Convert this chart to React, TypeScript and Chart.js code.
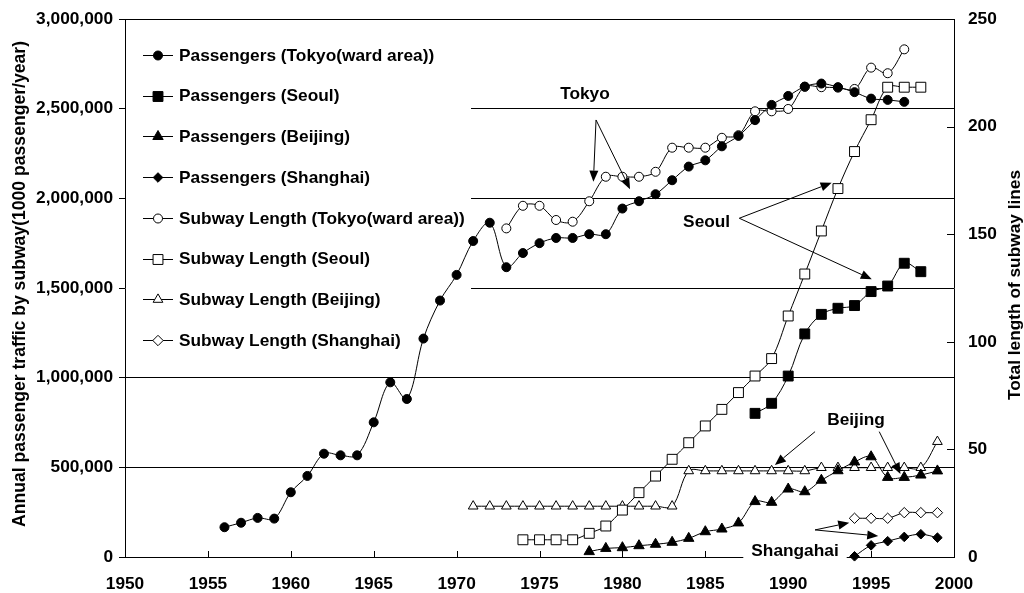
import React, { useEffect, useRef } from 'react';
import { Chart, registerables } from 'chart.js';

Chart.register(...registerables);

const FONT = '"Liberation Sans", Arial, Helvetica, sans-serif';
const FS = 17.3;

// ---------- data ----------
const tokyoPassengerYears = [1956, 1957, 1958, 1959, 1960, 1961, 1962, 1963, 1964, 1965, 1966, 1967, 1968, 1969, 1970, 1971, 1972, 1973, 1974, 1975, 1976, 1977, 1978, 1979, 1980, 1981, 1982, 1983, 1984, 1985, 1986, 1987, 1988, 1989, 1990, 1991, 1992, 1993, 1994, 1995, 1996, 1997];
const tokyoPassengers = [166000, 191000, 218000, 214000, 361000, 452000, 576000, 567000, 567000, 751000, 974000, 881000, 1218000, 1430000, 1573000, 1762000, 1864000, 1616000, 1695000, 1750000, 1779000, 1779000, 1800000, 1800000, 1943000, 1984000, 2023000, 2101000, 2177000, 2212000, 2290000, 2348000, 2436000, 2521000, 2571000, 2623000, 2640000, 2620000, 2592000, 2556000, 2549000, 2538000];

const seoulPassengerYears = [1988, 1989, 1990, 1991, 1992, 1993, 1994, 1995, 1996, 1997, 1998];
const seoulPassengers = [801000, 857000, 1009000, 1244000, 1353000, 1387000, 1402000, 1480000, 1511000, 1638000, 1591000];

const beijingPassengerYears = [1978, 1979, 1980, 1981, 1982, 1983, 1984, 1985, 1986, 1987, 1988, 1989, 1990, 1991, 1992, 1993, 1994, 1995, 1996, 1997, 1998, 1999];
const beijingPassengers = [30000, 48000, 52000, 63000, 71000, 82000, 104000, 141000, 156000, 190000, 309000, 305000, 379000, 364000, 428000, 481000, 530000, 559000, 444000, 444000, 457000, 480000];

const shanghaiYears = [1994, 1995, 1996, 1997, 1998, 1999];
const shanghaiPassengers = [4000, 65000, 88000, 112000, 127000, 108000];

const tokyoLengthYears = [1973, 1974, 1975, 1976, 1977, 1978, 1979, 1980, 1981, 1982, 1983, 1984, 1985, 1986, 1987, 1988, 1989, 1990, 1991, 1992, 1993, 1994, 1995, 1996, 1997];
const tokyoLength = [152.7, 163.2, 163.2, 156.6, 155.8, 165.3, 176.7, 176.7, 176.7, 179, 190.2, 190.2, 190.2, 194.8, 196, 207.1, 207.1, 208.2, 218.5, 218.3, 218.1, 217.5, 227.4, 224.8, 235.9];

const seoulLengthYears = [1974, 1975, 1976, 1977, 1978, 1979, 1980, 1981, 1982, 1983, 1984, 1985, 1986, 1987, 1988, 1989, 1990, 1991, 1992, 1993, 1994, 1995, 1996, 1997, 1998];
const seoulLength = [8, 8, 8, 8, 11, 14.4, 21.8, 29.9, 37.6, 45.4, 53.1, 60.9, 68.6, 76.4, 84.1, 92.2, 112, 131.5, 151.5, 171.2, 188.4, 203.2, 218.3, 218.3, 218.3];

const beijingLengthYears = [1971, 1972, 1973, 1974, 1975, 1976, 1977, 1978, 1979, 1980, 1981, 1982, 1983, 1984, 1985, 1986, 1987, 1988, 1989, 1990, 1991, 1992, 1993, 1994, 1995, 1996, 1997, 1998, 1999];
const beijingLength = [23.6, 23.6, 23.6, 23.6, 23.6, 23.6, 23.6, 23.6, 23.6, 23.6, 23.6, 23.6, 23.6, 40, 40, 40, 40, 40, 40, 40, 40, 41.5, 41.5, 41.5, 41.5, 41.5, 41.5, 41.5, 53.6];

const shanghaiLength = [18, 18, 18, 20.6, 20.6, 20.6];

// axis ranges / ticks
const xMin = 1950, xMax = 2000, xStep = 5;
const yMin = 0, yMax = 3000000, yStep = 500000;
const y2Min = 0, y2Max = 250, y2Step = 50;

const leftTitle = 'Annual passenger traffic by subway(1000 passenger/year)';
const rightTitle = 'Total length of subway lines';

// annotations (data coordinates: year, left-axis value)
const annotationLabels = [
  { text: 'Tokyo', x: 1977.74, y: 2586000 },
  { text: 'Seoul', x: 1985.08, y: 1870000 },
  { text: 'Beijing', x: 1994.09, y: 770000 },
  { text: 'Shangahai', x: 1990.41, y: 39000, boxed: true },
];
const arrows = [
  [1978.41, 2437000, 1978.25, 2093000],
  [1978.41, 2437000, 1980.46, 2051000],
  [1987.05, 1889000, 1992.62, 2087000],
  [1987.05, 1889000, 1995.04, 1549000],
  [1991.62, 699000, 1989.2, 513000],
  [1995.49, 699000, 1996.77, 463000],
  [1991.62, 151000, 1993.68, 191000],
  [1991.62, 151000, 1995.43, 117000],
];
const legendBoxRight = 1970.87; // year
const legendBoxBottom = 1100000; // left-axis value

const pts = (xs: number[], ys: number[]) => xs.map((x, i) => ({ x, y: ys[i] }));

function mkSet(label: string, data: any[], axis: string, style: string, filled: boolean, radius: number) {
  return {
    label,
    data,
    yAxisID: axis,
    borderColor: '#000',
    borderWidth: 1,
    pointStyle: style,
    pointRadius: radius,
    pointHoverRadius: radius,
    pointBackgroundColor: filled ? '#000' : '#fff',
    pointBorderColor: '#000',
    pointBorderWidth: 1,
    tension: 0.35,
    fill: false,
    clip: false as any,
  };
}

function drawMarker(ctx: CanvasRenderingContext2D, style: string, filled: boolean, r: number, cx: number, cy: number) {
  ctx.beginPath();
  if (style === 'circle') {
    ctx.arc(cx, cy, r, 0, Math.PI * 2);
  } else if (style === 'rect') {
    const s = Math.SQRT1_2 * r;
    ctx.rect(cx - s, cy - s, 2 * s, 2 * s);
  } else if (style === 'triangle') {
    for (let k = 0; k < 3; k++) {
      const a = (k * 2 * Math.PI) / 3;
      const px = cx + Math.sin(a) * r;
      const py = cy - Math.cos(a) * r;
      if (k === 0) ctx.moveTo(px, py); else ctx.lineTo(px, py);
    }
    ctx.closePath();
  } else if (style === 'rectRot') {
    ctx.moveTo(cx, cy - r);
    ctx.lineTo(cx + r, cy);
    ctx.lineTo(cx, cy + r);
    ctx.lineTo(cx - r, cy);
    ctx.closePath();
  }
  ctx.fillStyle = filled ? '#000' : '#fff';
  ctx.fill();
  ctx.strokeStyle = '#000';
  ctx.lineWidth = 1;
  ctx.stroke();
}

const noPad = (s: any) => {
  s.paddingTop = 0;
  s.paddingBottom = 0;
  s.paddingLeft = 0;
  s.paddingRight = 0;
};

const overlay = {
  id: 'overlay',
  beforeDatasetsDraw(chart: any) {
    const { ctx, chartArea: a, scales } = chart;
    const { x, y, y1 } = scales;
    ctx.save();
    // white legend panel hiding grid lines
    const lx = x.getPixelForValue(legendBoxRight);
    const ly = y.getPixelForValue(legendBoxBottom);
    ctx.fillStyle = '#fff';
    ctx.fillRect(a.left + 1, a.top + 1, lx - a.left - 1, ly - a.top - 1);

    // inward tick marks (x axis and right axis)
    ctx.strokeStyle = '#000';
    ctx.lineWidth = 1;
    ctx.beginPath();
    for (let v = xMin + xStep; v < xMax; v += xStep) {
      const px = Math.round(x.getPixelForValue(v)) + 0.5;
      ctx.moveTo(px, a.bottom);
      ctx.lineTo(px, a.bottom - 6);
    }
    for (let v = y2Min + y2Step; v < y2Max; v += y2Step) {
      const py = Math.round(y1.getPixelForValue(v)) + 0.5;
      ctx.moveTo(a.right, py);
      ctx.lineTo(a.right - 7, py);
    }
    ctx.stroke();

    // boxed labels backgrounds
    ctx.font = `bold ${FS}px ${FONT}`;
    annotationLabels.forEach((l) => {
      if (!l.boxed) return;
      const cx = x.getPixelForValue(l.x);
      const cy = y.getPixelForValue(l.y);
      const w = ctx.measureText(l.text).width;
      ctx.fillStyle = '#fff';
      ctx.fillRect(cx - w / 2 - 8, cy - 11, w + 16, 22);
    });

    // legend
    const items = chart.data.datasets;
    const rowTop = a.top + 36;
    const rowStep = 40.7;
    items.forEach((ds: any, i: number) => {
      const cy = rowTop + i * rowStep;
      const lineY = Math.round(cy) + 0.5;
      ctx.strokeStyle = '#000';
      ctx.lineWidth = 1;
      ctx.beginPath();
      ctx.moveTo(a.left + 18, lineY);
      ctx.lineTo(a.left + 48, lineY);
      ctx.stroke();
      drawMarker(ctx, ds.pointStyle, ds.pointBackgroundColor === '#000', ds.pointRadius, a.left + 33, lineY);
      ctx.fillStyle = '#000';
      ctx.font = `bold ${FS}px ${FONT}`;
      ctx.textAlign = 'left';
      ctx.textBaseline = 'middle';
      ctx.fillText(ds.label, a.left + 54, cy + 1);
    });
    ctx.restore();
  },
  afterDatasetsDraw(chart: any) {
    const { ctx, scales } = chart;
    const { x, y } = scales;
    ctx.save();
    ctx.fillStyle = '#000';
    ctx.strokeStyle = '#000';
    ctx.lineWidth = 1;
    ctx.font = `bold ${FS}px ${FONT}`;
    ctx.textAlign = 'center';
    ctx.textBaseline = 'middle';
    annotationLabels.forEach((l) => {
      ctx.fillText(l.text, x.getPixelForValue(l.x), y.getPixelForValue(l.y) + 1);
    });
    arrows.forEach(([x0, y0, x1, y1]) => {
      const px0 = x.getPixelForValue(x0), py0 = y.getPixelForValue(y0);
      const px1 = x.getPixelForValue(x1), py1 = y.getPixelForValue(y1);
      const dx = px1 - px0, dy = py1 - py0;
      const len = Math.hypot(dx, dy);
      const ux = dx / len, uy = dy / len;
      const hl = 11, hw = 4.5;
      const bx = px1 - ux * hl, by = py1 - uy * hl;
      ctx.beginPath();
      ctx.moveTo(px0, py0);
      ctx.lineTo(bx, by);
      ctx.stroke();
      ctx.beginPath();
      ctx.moveTo(px1, py1);
      ctx.lineTo(bx - uy * hw, by + ux * hw);
      ctx.lineTo(bx + uy * hw, by - ux * hw);
      ctx.closePath();
      ctx.fill();
    });
    ctx.restore();
  },
  afterDraw(chart: any) {
    const { ctx, chartArea: a } = chart;
    const midY = (a.top + a.bottom) / 2;
    ctx.save();
    ctx.fillStyle = '#000';
    ctx.font = `bold 17.6px ${FONT}`;
    ctx.textAlign = 'center';
    ctx.textBaseline = 'middle';
    ctx.translate(20, midY - 4);
    ctx.rotate(-Math.PI / 2);
    ctx.fillText(leftTitle, 0, 0);
    ctx.restore();
    ctx.save();
    ctx.fillStyle = '#000';
    ctx.font = `bold ${FS}px ${FONT}`;
    ctx.textAlign = 'center';
    ctx.textBaseline = 'middle';
    ctx.translate(1015, midY - 3);
    ctx.rotate(-Math.PI / 2);
    ctx.fillText(rightTitle, 0, 0);
    ctx.restore();
  },
};

export default function App() {
  const ref = useRef<HTMLCanvasElement | null>(null);
  useEffect(() => {
    if (!ref.current) return;
    const font = { family: FONT, size: FS, weight: 'bold' as const };
    const chart = new Chart(ref.current, {
      type: 'line',
      data: {
        datasets: [
          mkSet('Passengers (Tokyo(ward area))', pts(tokyoPassengerYears, tokyoPassengers), 'y', 'circle', true, 4.5),
          mkSet('Passengers (Seoul)', pts(seoulPassengerYears, seoulPassengers), 'y', 'rect', true, 7),
          mkSet('Passengers (Beijing)', pts(beijingPassengerYears, beijingPassengers), 'y', 'triangle', true, 6),
          mkSet('Passengers (Shanghai)', pts(shanghaiYears, shanghaiPassengers), 'y', 'rectRot', true, 4.8),
          mkSet('Subway Length (Tokyo(ward area))', pts(tokyoLengthYears, tokyoLength), 'y1', 'circle', false, 4.5),
          mkSet('Subway Length (Seoul)', pts(seoulLengthYears, seoulLength), 'y1', 'rect', false, 7),
          mkSet('Subway Length (Beijing)', pts(beijingLengthYears, beijingLength), 'y1', 'triangle', false, 5.6),
          mkSet('Subway Length (Shanghai)', pts(shanghaiYears, shanghaiLength), 'y1', 'rectRot', false, 5.2),
        ] as any,
      },
      options: {
        animation: false,
        responsive: false,
        maintainAspectRatio: false,
        events: [],
        layout: { padding: { top: 19, left: 0, right: 0, bottom: 0 } },
        plugins: { legend: { display: false }, tooltip: { enabled: false }, title: { display: false } },
        scales: {
          x: {
            type: 'linear',
            min: xMin,
            max: xMax,
            grid: { display: false },
            border: { display: true, color: '#000', width: 1 },
            ticks: { stepSize: xStep, color: '#000', font, padding: 9, maxRotation: 0, callback: (v: any) => String(v) },
            afterFit: (s: any) => { s.height = 36; noPad(s); },
          },
          y: {
            type: 'linear',
            position: 'left',
            min: yMin,
            max: yMax,
            grid: { display: true, color: '#000', lineWidth: 1, drawTicks: true, tickLength: 6 },
            border: { display: true, color: '#000', width: 1 },
            ticks: { stepSize: yStep, color: '#000', font, padding: 6, callback: (v: any) => Number(v).toLocaleString('en-US') },
            afterFit: (s: any) => { s.width = 125; noPad(s); },
          },
          y1: {
            type: 'linear',
            position: 'right',
            min: y2Min,
            max: y2Max,
            grid: { display: true, drawOnChartArea: false, drawTicks: false },
            border: { display: true, color: '#000', width: 1 },
            ticks: { stepSize: y2Step, color: '#000', font, padding: 14, callback: (v: any) => String(v) },
            afterFit: (s: any) => { s.width = 70; noPad(s); },
          },
        },
      } as any,
      plugins: [overlay],
    });
    return () => chart.destroy();
  }, []);
  return (
    <div style={{ position: 'absolute', left: 0, top: 0, width: 1024, height: 593, background: '#fff' }}>
      <canvas ref={ref} width={1024} height={593} style={{ display: 'block' }} />
    </div>
  );
}
